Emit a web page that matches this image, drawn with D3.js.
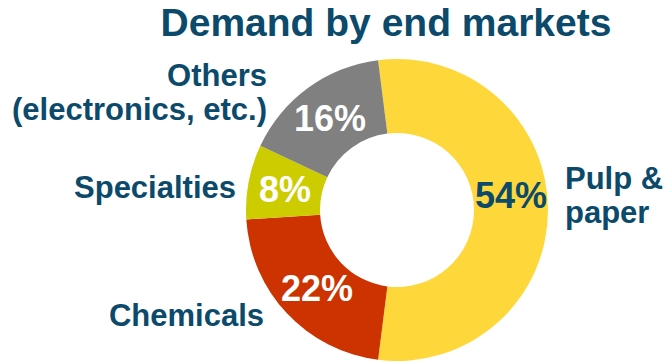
<!DOCTYPE html>
<html>
<head>
<meta charset="utf-8">
<script src="https://cdn.jsdelivr.net/npm/d3@7"></script>
<style>
  body { margin: 0; background: #fff; }
</style>
</head>
<body>
<div id="chart"></div>
<script>
// data
var markets = ["Pulp & paper", "Chemicals", "Specialties", "Others (electronics, etc.)"];
var shares = [54, 22, 8, 16];
var sliceColors = ["#FED83A", "#CC3300", "#CCCC00", "#808080"];
var pctColors = ["#0B4A6B", "#ffffff", "#ffffff", "#ffffff"];

var svgWidth = 666;
var svgHeight = 362;
var blue = "#0B4A6B";
var font = "'Liberation Sans', Arimo, Arial, Helvetica, sans-serif";

var svg = d3.select("#chart")
  .append("svg")
  .attr("width", svgWidth)
  .attr("height", svgHeight)
  .attr("font-family", font)
  .attr("font-weight", "bold");

// title
svg.append("text")
  .attr("x", 386)
  .attr("y", 35.5)
  .attr("text-anchor", "middle")
  .attr("font-size", "39px")
  .attr("fill", blue)
  .text("Demand by end markets");

var cx = 397, cy = 210;
var outerR = 151, innerR = 77;
var startA = -7.2 * Math.PI / 180;

var pie = d3.pie()
  .sort(null)
  .startAngle(startA)
  .endAngle(startA + 2 * Math.PI);

var arc = d3.arc()
  .innerRadius(innerR)
  .outerRadius(outerR);

var labelArc = d3.arc()
  .innerRadius((innerR + outerR) / 2)
  .outerRadius((innerR + outerR) / 2);

var donut = svg.append("g")
  .attr("transform", `translate(${cx}, ${cy})`);

var arcs = pie(shares);

donut.selectAll("path")
  .data(arcs)
  .enter()
  .append("path")
  .attr("d", arc)
  .attr("fill", (d, i) => sliceColors[i]);

// percentage labels inside the ring
donut.selectAll("text.pct")
  .data(arcs)
  .enter()
  .append("text")
  .attr("class", "pct")
  .attr("x", (d, i) => labelArc.centroid(d)[0] + (i === 1 ? 3 : 0))
  .attr("y", (d, i) => labelArc.centroid(d)[1] + (i === 0 ? -15 : 0))
  .attr("dy", "0.36em")
  .attr("text-anchor", "middle")
  .attr("font-size", "36px")
  .attr("fill", (d, i) => pctColors[i])
  .text(d => d.data + "%");

// outside category labels
function addLabel(lines, x, y, anchor) {
  var t = svg.append("text")
    .attr("x", x)
    .attr("y", y)
    .attr("text-anchor", anchor)
    .attr("font-size", "31px")
    .attr("fill", blue);
  lines.forEach(function(line, k) {
    t.append("tspan")
      .attr("x", x)
      .attr("dy", k === 0 ? 0 : 34)
      .text(line);
  });
}

addLabel(["Pulp &", "paper"], 565, 189, "start");
addLabel(["Chemicals"], 264, 326, "end");
addLabel(["Specialties"], 236, 198, "end");
addLabel(["Others", "(electronics, etc.)"], 267, 86, "end");
</script>
</body>
</html>
